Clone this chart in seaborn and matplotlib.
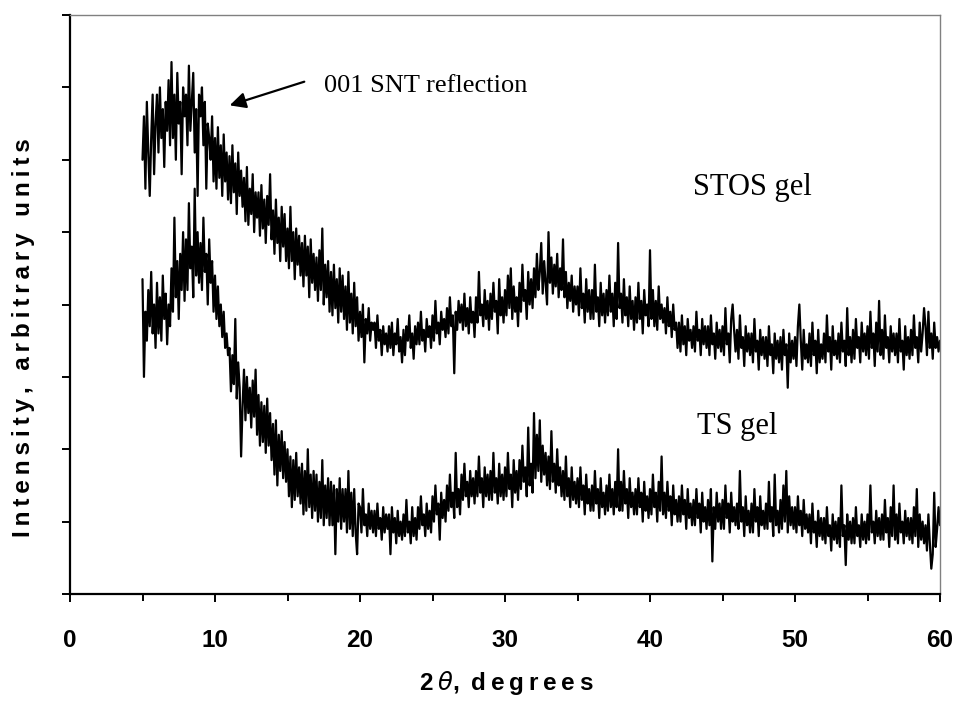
import numpy as np
import pandas as pd
import matplotlib
matplotlib.use("Agg")
import matplotlib.pyplot as plt
from matplotlib.ticker import MultipleLocator, NullFormatter
import seaborn as sns

# ---- data (2-theta from 5.0 to 60.0 in 0.1 deg steps) ----
stos_gel = [
    6.0, 6.6, 5.6, 6.8, 6.1, 5.5, 6.3, 6.9, 5.8, 6.5,
    6.9, 6.1, 7.0, 6.3, 6.7, 5.9, 6.8, 6.4, 7.1, 6.2,
    7.35, 6.3, 6.9, 6.0, 7.2, 6.5, 6.8, 5.8, 7.0, 6.6,
    6.9, 6.2, 7.3, 6.4, 6.8, 7.2, 6.1, 6.7, 5.5, 6.9,
    6.6, 7.0, 6.2, 6.8, 5.6, 6.5, 6.3, 6.0, 6.6, 5.7,
    6.3, 5.6, 6.45, 5.75, 6.2, 5.5, 6.35, 5.7, 6.1, 5.45,
    6.05, 5.4, 6.2, 5.55, 5.95, 5.25, 6.1, 5.5, 5.85, 5.35,
    5.75, 5.15, 5.9, 5.1, 5.6, 5.25, 5.8, 5.0, 5.55, 5.2,
    5.55, 4.95, 5.65, 5.05, 5.45, 4.85, 5.5, 5.1, 5.8, 4.9,
    5.3, 4.7, 5.45, 4.85, 5.2, 4.6, 5.35, 4.8, 5.25, 4.6,
    5.05, 4.5, 5.35, 4.6, 5.0, 4.35, 5.05, 4.55, 4.95, 4.4,
    4.85, 4.25, 4.95, 4.4, 4.8, 4.1, 4.9, 4.3, 4.7, 4.2,
    4.65, 4.05, 4.75, 4.2, 5.05, 4.0, 4.55, 4.1, 4.6, 3.9,
    4.45, 3.85, 4.55, 3.95, 4.35, 3.75, 4.5, 3.9, 4.4, 3.8,
    4.25, 3.65, 4.45, 3.75, 4.15, 3.6, 4.3, 3.7, 4.1, 3.5,
    3.9, 3.55, 4.0, 3.2, 3.8, 3.6, 3.95, 3.5, 3.75, 3.65,
    3.75, 3.4, 3.85, 3.5, 3.65, 3.3, 3.7, 3.45, 3.6, 3.35,
    3.7, 3.4, 3.75, 3.3, 3.6, 3.45, 3.8, 3.35, 3.55, 3.2,
    3.65, 3.3, 3.7, 3.5, 3.85, 3.4, 3.6, 3.25, 3.7, 3.45,
    3.75, 3.45, 3.9, 3.5, 3.65, 3.35, 3.8, 3.55, 3.7, 3.4,
    3.85, 3.5, 4.05, 3.6, 3.75, 3.45, 3.9, 3.65, 3.8, 3.55,
    3.95, 3.6, 4.1, 3.7, 3.85, 3.05, 3.9, 3.65, 4.05, 3.75,
    4.0, 3.65, 4.15, 3.7, 3.95, 3.6, 4.1, 3.75, 3.9, 3.55,
    4.1, 3.75, 4.45, 3.85, 4.0, 3.7, 4.2, 3.8, 4.05, 3.65,
    4.15, 3.8, 4.3, 3.9, 4.05, 3.6, 4.35, 3.85, 4.1, 3.75,
    4.2, 3.85, 4.4, 3.95, 4.5, 3.8, 4.25, 3.9, 4.1, 3.7,
    4.3, 3.9, 4.55, 4.05, 4.2, 3.8, 4.45, 4.0, 4.35, 3.95,
    4.5, 4.1, 4.7, 4.2, 4.45, 4.85, 4.15, 4.6, 4.3, 4.0,
    5.0, 4.3, 4.65, 4.15, 4.55, 4.25, 4.7, 4.1, 4.5, 4.2,
    4.9, 4.1, 4.45, 3.95, 4.3, 4.05, 4.4, 3.9, 4.25, 4.0,
    4.25, 3.85, 4.5, 3.95, 4.15, 3.75, 4.35, 3.9, 4.2, 3.8,
    4.2, 3.8, 4.55, 3.9, 4.1, 3.7, 4.3, 3.85, 4.15, 3.75,
    4.2, 3.85, 4.4, 3.9, 4.15, 3.7, 4.3, 3.8, 4.85, 3.95,
    4.15, 3.75, 4.35, 3.85, 4.1, 3.7, 4.25, 3.8, 4.05, 3.65,
    4.1, 3.75, 4.3, 3.8, 4.05, 3.6, 4.2, 3.85, 4.0, 3.7,
    4.75, 3.8, 4.2, 3.7, 4.05, 3.65, 4.25, 3.8, 4.0, 3.75,
    3.95, 3.6, 4.1, 3.7, 3.9, 3.55, 4.0, 3.65, 3.75, 3.4,
    3.75, 3.35, 3.85, 3.45, 3.7, 3.3, 3.8, 3.5, 3.65, 3.4,
    3.7, 3.35, 3.9, 3.5, 3.65, 3.3, 3.8, 3.45, 3.7, 3.4,
    3.7, 3.3, 3.85, 3.45, 3.6, 3.25, 3.75, 3.4, 3.65, 3.35,
    3.7, 3.3, 3.95, 3.45, 3.6, 3.2, 3.8, 4.0, 3.65, 3.35,
    3.65, 3.25, 3.85, 3.4, 3.55, 3.15, 3.7, 3.35, 3.6, 3.3,
    3.6, 3.2, 3.8, 3.35, 3.5, 3.1, 3.65, 3.3, 3.55, 3.25,
    3.55, 3.15, 3.7, 3.3, 3.45, 3.05, 3.6, 3.25, 3.5, 3.2,
    3.55, 3.1, 3.65, 3.3, 3.45, 2.85, 3.6, 3.2, 3.5, 3.25,
    3.55, 3.15, 3.7, 4.0, 3.5, 3.1, 3.65, 3.25, 3.45, 3.2,
    3.6, 3.15, 3.75, 3.3, 3.5, 3.05, 3.65, 3.2, 3.45, 3.25,
    3.6, 3.2, 3.85, 3.35, 3.55, 3.1, 3.7, 3.3, 3.5, 3.25,
    3.6, 3.2, 3.75, 3.35, 3.5, 3.15, 3.95, 3.3, 3.55, 3.2,
    3.65, 3.25, 3.8, 3.4, 3.55, 3.2, 3.75, 3.35, 3.6, 3.3,
    3.7, 3.25, 3.9, 3.4, 3.6, 3.15, 3.75, 3.35, 4.05, 3.3,
    3.65, 3.25, 3.85, 3.4, 3.55, 3.2, 3.7, 3.35, 3.6, 3.3,
    3.6, 3.2, 3.8, 3.35, 3.5, 3.1, 3.7, 3.3, 3.55, 3.25,
    3.65, 3.3, 3.85, 3.4, 3.55, 3.2, 3.75, 3.35, 3.6, 3.95,
    3.7, 3.3, 3.9, 3.4, 3.6, 3.25, 3.75, 3.4, 3.55, 3.35,
    3.5,
]

ts_gel = [
    4.35, 3.0, 3.9, 3.5, 4.2, 3.7, 4.45, 3.6, 4.0, 3.4,
    4.3, 3.6, 4.1, 3.5, 4.4, 3.8, 4.15, 3.45, 4.0, 3.7,
    4.5, 3.9, 5.2, 4.1, 4.6, 3.8, 4.7, 4.2, 5.0, 4.05,
    4.9, 4.2, 5.4, 4.5, 4.8, 4.1, 5.6, 4.4, 5.0, 4.3,
    4.85, 4.2, 5.2, 4.45, 4.7, 4.0, 4.9, 4.3, 4.6, 3.9,
    4.4, 3.8, 4.25, 3.7, 4.0, 3.55, 3.9, 3.4, 3.6, 3.3,
    3.4, 2.8, 3.3, 2.9, 3.8, 2.7, 3.2, 2.85, 1.9, 2.6,
    3.1, 2.4, 3.0, 2.5, 2.85, 2.3, 2.95, 2.45, 3.1, 2.2,
    2.75, 2.05, 2.65, 2.1, 2.6, 1.95, 2.7, 2.05, 2.5, 1.85,
    2.35, 1.65, 2.4, 1.5, 2.2, 1.7, 2.25, 1.6, 2.1, 1.55,
    2.0, 1.35, 1.9, 1.2, 1.85, 1.3, 1.95, 1.35, 1.75, 1.25,
    1.8, 1.1, 1.7, 1.15, 2.0, 1.2, 1.65, 1.05, 1.7, 1.15,
    1.65, 1.0, 1.55, 1.05, 1.85, 0.95, 1.5, 1.05, 1.6, 0.95,
    1.55, 0.95, 1.5, 0.55, 1.45, 1.0, 1.6, 0.9, 1.45, 1.0,
    1.45, 0.85, 1.7, 0.9, 1.4, 0.8, 1.45, 0.85, 0.55, 1.25,
    1.2, 0.85, 1.45, 0.95, 1.1, 0.8, 1.25, 0.9, 1.15, 0.85,
    1.15, 0.8, 1.25, 0.9, 1.05, 0.75, 1.2, 0.85, 1.1, 0.9,
    1.1, 0.55, 1.2, 0.85, 1.05, 0.7, 1.15, 0.8, 1.0, 0.75,
    1.1, 0.8, 1.3, 0.85, 1.0, 0.7, 1.2, 0.8, 1.05, 0.75,
    1.2, 0.9, 1.35, 0.95, 1.1, 0.8, 1.25, 0.9, 1.15, 0.85,
    1.35, 1.0, 1.5, 1.1, 1.25, 0.75, 1.4, 1.05, 1.3, 1.0,
    1.5, 1.15, 1.65, 1.2, 1.4, 1.05, 1.95, 1.2, 1.45, 1.1,
    1.65, 1.3, 1.8, 1.35, 1.55, 1.2, 1.7, 1.35, 1.6, 1.25,
    1.7, 1.35, 1.9, 1.4, 1.6, 1.2, 1.75, 1.35, 1.65, 1.3,
    1.7, 1.3, 1.95, 1.4, 1.6, 1.25, 1.8, 1.35, 1.65, 1.3,
    1.75, 1.35, 1.95, 1.45, 1.65, 1.2, 1.85, 1.4, 1.7, 1.3,
    1.85, 1.45, 2.05, 1.55, 1.75, 1.35, 2.3, 1.5, 1.8, 1.4,
    2.5, 1.6, 2.2, 1.7, 2.4, 1.55, 2.05, 1.65, 1.95, 1.5,
    1.9, 1.45, 2.25, 1.55, 1.8, 1.4, 2.0, 1.5, 1.75, 1.35,
    1.7, 1.3, 1.9, 1.35, 1.6, 1.2, 1.75, 1.3, 1.55, 1.25,
    1.6, 1.2, 1.75, 1.3, 1.5, 1.1, 1.65, 1.25, 1.45, 1.15,
    1.5, 1.15, 1.7, 1.25, 1.45, 1.05, 1.6, 1.2, 1.4, 1.1,
    1.5, 1.15, 1.65, 1.2, 1.45, 1.1, 1.55, 1.2, 2.0, 1.15,
    1.55, 1.15, 1.7, 1.25, 1.45, 1.05, 1.6, 1.2, 1.4, 1.1,
    1.45, 1.1, 1.6, 1.2, 1.4, 1.0, 1.55, 1.15, 1.35, 1.05,
    1.45, 1.1, 1.65, 1.2, 1.4, 1.0, 1.55, 1.15, 1.9, 1.1,
    1.4, 1.05, 1.55, 1.15, 1.35, 0.95, 1.5, 1.1, 1.3, 1.0,
    1.35, 1.0, 1.5, 1.1, 1.3, 0.9, 1.45, 1.05, 1.25, 0.95,
    1.3, 0.95, 1.45, 1.05, 1.25, 0.85, 1.4, 1.0, 1.2, 0.9,
    1.3, 0.95, 1.45, 0.45, 1.2, 0.9, 1.4, 1.0, 1.25, 0.9,
    1.3, 0.9, 1.5, 1.05, 1.25, 0.85, 1.4, 1.0, 1.2, 0.95,
    1.25, 0.9, 1.7, 1.0, 1.2, 0.8, 1.35, 0.95, 1.15, 0.85,
    1.25, 0.85, 1.45, 1.0, 1.2, 0.8, 1.35, 0.95, 1.15, 0.9,
    1.25, 0.9, 1.55, 1.0, 1.2, 0.8, 1.65, 0.95, 1.15, 0.85,
    1.3, 0.9, 1.5, 1.0, 1.7, 0.85, 1.35, 0.95, 1.2, 0.9,
    1.2, 0.85, 1.35, 0.95, 1.15, 0.8, 1.3, 0.9, 1.1, 0.85,
    1.1, 0.7, 1.25, 0.85, 1.0, 0.65, 1.15, 0.8, 1.05, 0.75,
    1.05, 0.7, 1.2, 0.8, 0.95, 0.6, 1.1, 0.75, 1.0, 0.7,
    1.05, 0.65, 1.5, 0.8, 0.95, 0.4, 1.1, 0.75, 1.0, 0.7,
    1.05, 0.7, 1.2, 0.8, 0.95, 0.65, 1.1, 0.75, 1.0, 0.7,
    1.1, 0.75, 1.5, 0.85, 1.0, 0.7, 1.15, 0.8, 1.05, 0.75,
    1.1, 0.75, 1.3, 0.85, 1.05, 0.65, 1.2, 0.8, 1.5, 0.75,
    1.1, 0.7, 1.25, 0.85, 1.0, 0.7, 1.15, 0.8, 1.05, 0.75,
    1.05, 0.7, 1.2, 0.8, 1.45, 0.65, 1.1, 0.75, 1.0, 0.7,
    0.95, 0.6, 1.1, 0.7, 0.35, 0.55, 1.4, 0.65, 0.9, 1.2,
    0.95,
]

x_ticks = [0, 10, 20, 30, 40, 50, 60]
series_names = ["STOS gel", "TS gel"]

# ---- build tidy frame ----
n1, n2 = len(stos_gel), len(ts_gel)
two_theta_1 = np.round(5.0 + 0.1 * np.arange(n1), 1)
two_theta_2 = np.round(5.0 + 0.1 * np.arange(n2), 1)
df = pd.concat([
    pd.DataFrame({"two_theta": two_theta_1, "intensity": stos_gel, "sample": series_names[0]}),
    pd.DataFrame({"two_theta": two_theta_2, "intensity": ts_gel, "sample": series_names[1]}),
], ignore_index=True)

sns.set_theme(style="ticks")
plt.rcParams["font.family"] = ["Liberation Sans", "DejaVu Sans"]
plt.rcParams["text.color"] = "black"
plt.rcParams["axes.labelcolor"] = "black"
plt.rcParams["xtick.color"] = "black"
plt.rcParams["ytick.color"] = "black"

fig = plt.figure(figsize=(9.57, 7.02), dpi=100)
ax = fig.add_axes([70 / 957, 1 - 594 / 702, 870 / 957, 579 / 702])

sns.lineplot(data=df, x="two_theta", y="intensity", hue="sample",
             palette=["black", "black"], estimator=None, sort=False,
             legend=False, linewidth=1.6, ax=ax)

ax.set_xlim(0, 60)
ax.set_ylim(0, 8)
ax.set_xticks(x_ticks)
ax.xaxis.set_minor_locator(MultipleLocator(5))
ax.yaxis.set_major_locator(MultipleLocator(1))
ax.yaxis.set_major_formatter(NullFormatter())

ax.tick_params(axis="x", which="major", direction="out", length=6, width=1.4,
               color="black", labelcolor="black", labelsize=17.5, pad=19)
ax.tick_params(axis="x", which="minor", direction="out", length=5, width=1.4, color="black")
ax.tick_params(axis="y", which="major", direction="out", length=6, width=1.4, color="black")
for lab in ax.get_xticklabels():
    lab.set_fontweight("bold")

for side in ["left", "bottom"]:
    ax.spines[side].set_color("black")
    ax.spines[side].set_linewidth(1.6)
for side in ["top", "right"]:
    ax.spines[side].set_visible(True)
    ax.spines[side].set_color("#808080")
    ax.spines[side].set_linewidth(1.0)

ts = "\u2009"
ylab = ts.join("Intensity, arbitrary units")
ax.set_ylabel(ylab, fontsize=17.5, fontweight="bold", color="black")
ax.yaxis.label.set_verticalalignment("center")
ax.yaxis.set_label_coords((24 - 70) / 870, (594 - 338) / 579)

xlab = "2" + ts + r"$\theta$" + "," + ts + " " + ts.join("degrees")
ax.set_xlabel(xlab, fontsize=17.5, fontweight="bold", color="black")
ax.xaxis.label.set_verticalalignment("center")
ax.xaxis.set_label_coords((506 - 70) / 870, (594 - 683) / 579)

serif = ["Liberation Serif", "DejaVu Serif"]
ax.annotate("", xy=(10.83, 6.74), xytext=(16.34, 7.09),
            arrowprops=dict(arrowstyle="-|>", color="black", lw=1.6, mutation_scale=24))
ax.text(17.55, 6.94, "001 SNT reflection", ha="left", va="baseline",
        fontsize=19, family=serif, color="black")
ax.text(42.97, 5.51, "STOS gel", ha="left", va="baseline",
        fontsize=22, family=serif, color="black")
ax.text(43.24, 2.21, "TS gel", ha="left", va="baseline",
        fontsize=22, family=serif, color="black")

fig.savefig("out.png", dpi=100)
